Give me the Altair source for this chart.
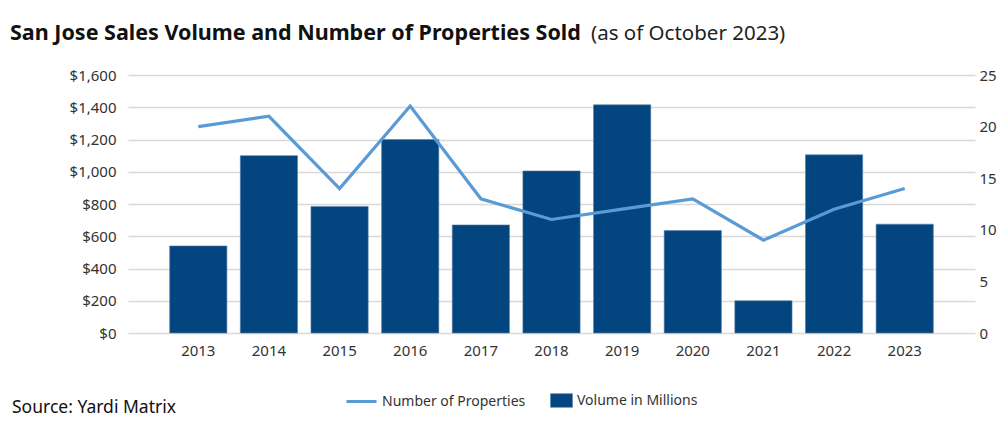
import altair as alt
import pandas as pd

years = ["2013", "2014", "2015", "2016", "2017", "2018", "2019", "2020", "2021", "2022", "2023"]
volume = [540, 1100, 785, 1200, 670, 1005, 1415, 635, 200, 1105, 675]
properties = [20, 21, 14, 22, 13, 11, 12, 13, 9, 12, 14]

title_bold = "San Jose Sales Volume and Number of Properties Sold"
title_rest = "(as of October 2023)"
source = "Source: Yardi Matrix"

df = pd.DataFrame({"year": years, "volume": volume, "props": properties,
                   "vlabel": ["Volume in Millions"] * len(years),
                   "plabel": ["Number of Properties"] * len(years)})

FONT = "Noto Sans"
BAR = "#03457E"
LINE = "#5B9BD5"

x = alt.X("year:N", title=None, sort=years,
          scale=alt.Scale(paddingInner=0.19, paddingOuter=0.59),
          axis=alt.Axis(labelAngle=0, ticks=False, domain=False, labelPadding=10,
                        labelFont=FONT, labelFontSize=15, labelColor="#333333"))

bars = alt.Chart(df).mark_bar(stroke="#5d7fa8", strokeWidth=0.6).encode(
    x=x,
    y=alt.Y("volume:Q", title=None,
            scale=alt.Scale(domain=[0, 1600]),
            axis=alt.Axis(values=list(range(0, 1601, 200)), format="$,d",
                          ticks=False, domain=False, labelPadding=12,
                          grid=True, gridColor="#d9d9d9", gridWidth=1.5,
                          labelFont=FONT, labelFontSize=15, labelColor="#333333")),
    fill=alt.Fill("vlabel:N", scale=alt.Scale(range=[BAR]),
                  legend=alt.Legend(title=None, orient="none", legendX=422, legendY=314,
                                    symbolType="M-1,-0.62H1V0.62H-1Z", symbolSize=484,
                                    symbolStrokeColor="#5d7fa8", symbolStrokeWidth=0.6,
                                    labelFont=FONT, labelFontSize=14, labelColor="#333333")),
)

line = alt.Chart(df).mark_line(strokeWidth=3.2).encode(
    x=x,
    y=alt.Y("props:Q", title=None,
            scale=alt.Scale(domain=[0, 25]),
            axis=alt.Axis(orient="right", values=[0, 5, 10, 15, 20, 25],
                          ticks=False, domain=False, grid=False, labelPadding=4,
                          labelFont=FONT, labelFontSize=15, labelColor="#333333")),
    stroke=alt.Stroke("plabel:N", scale=alt.Scale(range=[LINE]),
                      legend=alt.Legend(title=None, orient="none", legendX=217, legendY=310,
                                        symbolType="stroke", symbolStrokeWidth=3,
                                        symbolSize=900,
                                        labelFont=FONT, labelFontSize=14, labelColor="#333333")),
)

tdf1 = pd.DataFrame({"t": [title_bold]})
tdf2 = pd.DataFrame({"t": [title_rest]})
sdf = pd.DataFrame({"t": [source]})

t1 = alt.Chart(tdf1).mark_text(align="left", baseline="alphabetic", font=FONT,
                               fontSize=21.5, fontWeight="bold", color="#111111").encode(
    text="t:N", x=alt.value(-118), y=alt.value(-35))
t2 = alt.Chart(tdf2).mark_text(align="left", baseline="alphabetic", font=FONT,
                               fontSize=20.5, color="#222222").encode(
    text="t:N", x=alt.value(463), y=alt.value(-35))
src = alt.Chart(sdf).mark_text(align="left", baseline="middle", font=FONT,
                               fontSize=17.5, color="#111111").encode(
    text="t:N", x=alt.value(-116), y=alt.value(333))

chart = alt.layer(bars, line, t1, t2, src).resolve_scale(
    y="independent", fill="independent", stroke="independent"
).properties(
    width=847, height=258,
    padding={"left": 128, "top": 75, "right": 32, "bottom": 100},
    autosize=alt.AutoSizeParams(type="none"),
).configure_view(stroke=None)

chart.save("out.html", embed_options={"renderer": "svg", "actions": False})
